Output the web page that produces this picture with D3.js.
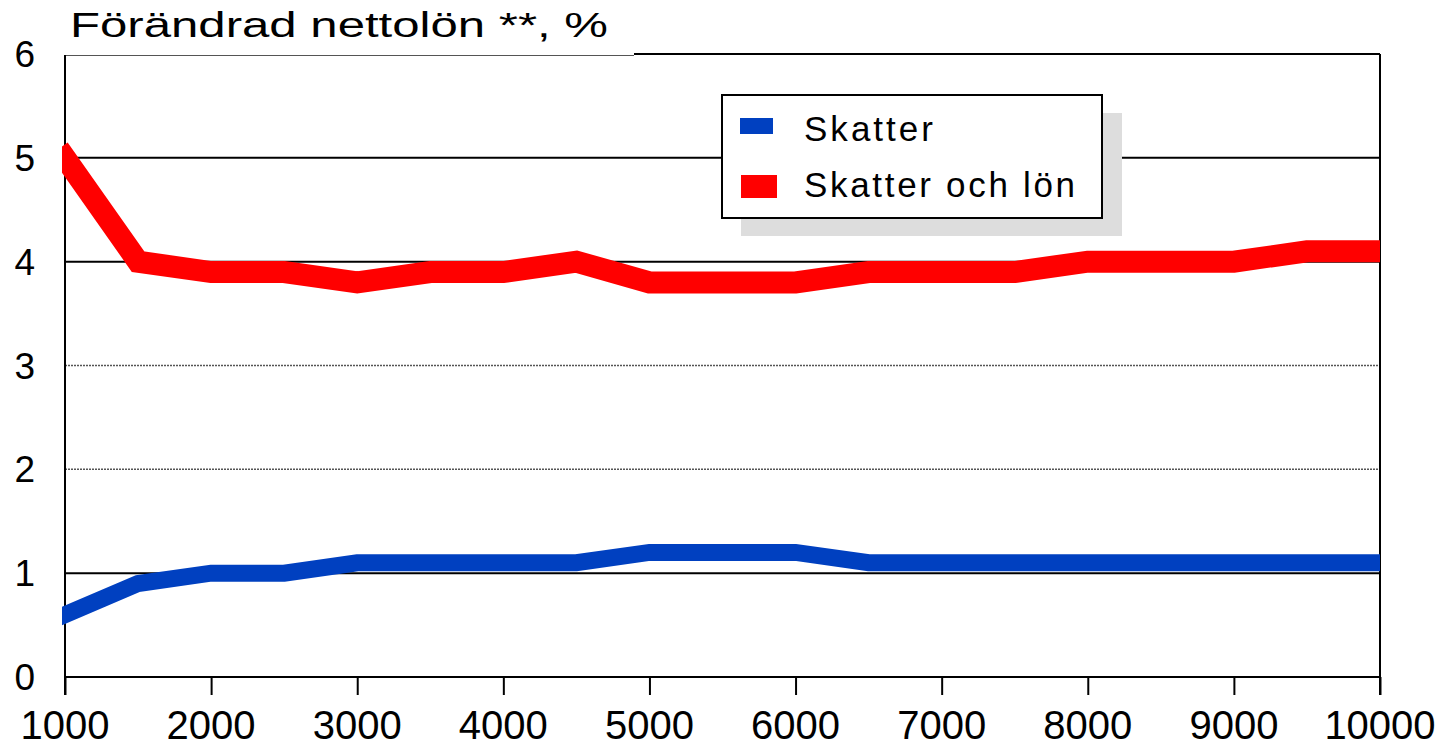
<!DOCTYPE html>
<html>
<head>
<meta charset="utf-8">
<script src="https://cdn.jsdelivr.net/npm/d3@7"></script>
<style>
  html, body { margin: 0; padding: 0; background: #fff; }
  svg { display: block; }
</style>
</head>
<body>
<svg id="chart" width="1437" height="748"></svg>
<script>
// ---- data ----
const incomes = [1000,1500,2000,2500,3000,3500,4000,4500,5000,5500,6000,6500,7000,7500,8000,8500,9000,9500,10000];
const skatter = [0.6,0.9,1.0,1.0,1.1,1.1,1.1,1.1,1.2,1.2,1.2,1.1,1.1,1.1,1.1,1.1,1.1,1.1,1.1];
const skatterOchLon = [5.0,4.0,3.9,3.9,3.8,3.9,3.9,4.0,3.8,3.8,3.8,3.9,3.9,3.9,4.0,4.0,4.0,4.1,4.1];
const xTicks = [1000,2000,3000,4000,5000,6000,7000,8000,9000,10000];
const yTicks = [0,1,2,3,4,5,6];
const dottedGrid = [2,3];
const seriesNames = ["Skatter","Skatter och lön"];
const seriesColors = ["#0040c0","#ff0000"];
const titleText = "Förändrad nettolön **, %";

// ---- layout ----
const svg = d3.select("#chart");
const pL = 65, pR = 1380, pT = 54, pB = 677;
const x = d3.scaleLinear().domain([1000,10000]).range([pL,pR]);
const y = d3.scaleLinear().domain([0,6]).range([pB,pT]);

svg.append("rect").attr("width",1437).attr("height",748).attr("fill","#fff");

// gridlines (top one split: thin grey under title, black beyond)
svg.append("g").selectAll("line").data(yTicks.filter(d => d > 0 && d < 6)).join("line")
  .attr("x1", pL).attr("x2", pR)
  .attr("y1", d => y(d)).attr("y2", d => y(d))
  .attr("stroke", d => dottedGrid.includes(d) ? "#555" : "#000")
  .attr("stroke-width", d => dottedGrid.includes(d) ? 1.5 : 2)
  .attr("stroke-dasharray", d => dottedGrid.includes(d) ? "2,1" : null);
svg.append("line").attr("x1",pL).attr("x2",634).attr("y1",y(6)+1.5).attr("y2",y(6)+1.5)
  .attr("stroke","#555").attr("stroke-width",1.2);
svg.append("line").attr("x1",634).attr("x2",pR).attr("y1",y(6)).attr("y2",y(6))
  .attr("stroke","#000").attr("stroke-width",2);

// x axis with ticks
const xAxis = d3.axisBottom(x).tickValues(xTicks).tickSize(18).tickFormat("");
const gx = svg.append("g").attr("transform", `translate(0,${pB})`).call(xAxis);
gx.select(".domain").remove();
gx.selectAll(".tick line").attr("stroke","#000").attr("stroke-width",2);
svg.append("line").attr("x1",pL).attr("x2",pR).attr("y1",pB).attr("y2",pB)
  .attr("stroke","#000").attr("stroke-width",2);

// left and right frame lines
svg.append("line").attr("x1",pL).attr("x2",pL).attr("y1",pT+1).attr("y2",pB+18)
  .attr("stroke","#000").attr("stroke-width",2);
svg.append("line").attr("x1",pR).attr("x2",pR).attr("y1",pT).attr("y2",pB+18)
  .attr("stroke","#000").attr("stroke-width",2);

// x tick labels
svg.append("g").selectAll("text").data(xTicks).join("text")
  .attr("x", d => x(d)).attr("y", 739)
  .attr("text-anchor","middle")
  .attr("font-family","'Liberation Sans', Arial, sans-serif")
  .attr("font-size", 40)
  .attr("fill","#000")
  .text(d => d);

// y tick labels
svg.append("g").selectAll("text").data(yTicks).join("text")
  .attr("x", 35).attr("y", d => y(d) + 13)
  .attr("text-anchor","end")
  .attr("font-family","'Liberation Sans', Arial, sans-serif")
  .attr("font-size", 37)
  .attr("fill","#000")
  .text(d => d);

// lines
svg.append("defs").append("clipPath").attr("id","plotclip")
  .append("rect").attr("x", pL-3).attr("y", 0).attr("width", pR-pL+3).attr("height", 748);
const line = d3.line().x((d,i) => x(incomes[i])).y(d => y(d));
const plot = svg.append("g").attr("clip-path","url(#plotclip)");
plot.append("path").datum(skatter).attr("d", line)
  .attr("fill","none").attr("stroke",seriesColors[0]).attr("stroke-width",17)
  .attr("stroke-linecap","square");
plot.append("path").datum(skatterOchLon).attr("d", line)
  .attr("fill","none").attr("stroke",seriesColors[1]).attr("stroke-width",22)
  .attr("stroke-linecap","square");

// title
svg.append("text").attr("x",70).attr("y",37)
  .attr("font-family","'Liberation Sans', Arial, sans-serif")
  .attr("font-size",35)
  .attr("textLength",538).attr("lengthAdjust","spacingAndGlyphs")
  .attr("fill","#000")
  .text(titleText);

// legend
const lg = svg.append("g");
lg.append("rect").attr("x",741).attr("y",113).attr("width",381).attr("height",123).attr("fill","#dddddd");
lg.append("rect").attr("x",722).attr("y",95).attr("width",380).attr("height",123)
  .attr("fill","#fff").attr("stroke","#000").attr("stroke-width",2);
const swatches = [[740,118,33,16],[741,175,36,23]];
const textLens = [129,271];
const baselines = [141,197];
seriesNames.forEach((name,i) => {
  lg.append("rect").attr("x",swatches[i][0]).attr("y",swatches[i][1])
    .attr("width",swatches[i][2]).attr("height",swatches[i][3]).attr("fill",seriesColors[i]);
  lg.append("text").attr("x",804).attr("y",baselines[i])
    .attr("font-family","'Liberation Sans', Arial, sans-serif")
    .attr("font-size",35)
    .attr("textLength",textLens[i]).attr("lengthAdjust","spacing")
    .attr("fill","#000")
    .text(name);
});
</script>
</body>
</html>
